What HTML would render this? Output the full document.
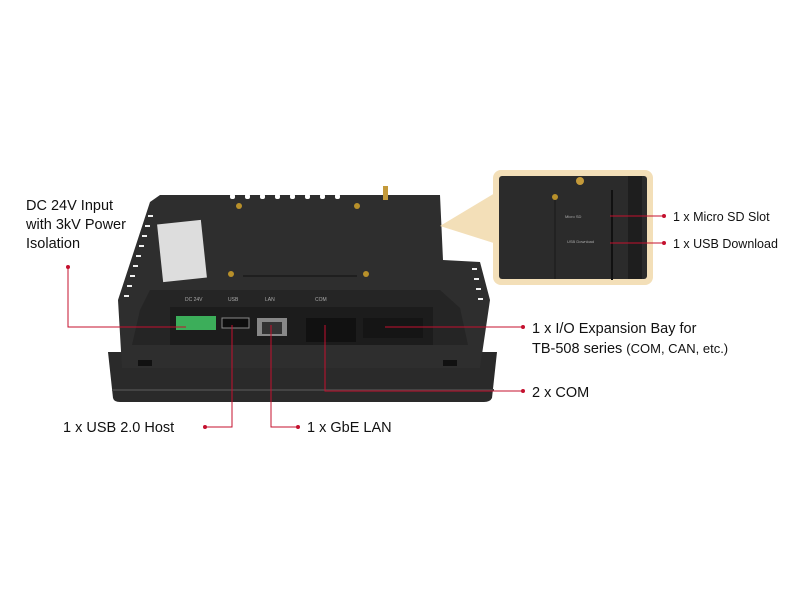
<!DOCTYPE html>
<html><head><style>
body{margin:0;background:#fff;}
svg text{font-family:"Liberation Sans",sans-serif;fill:#111;}
</style></head><body>
<svg width="800" height="600" viewBox="0 0 800 600" xmlns="http://www.w3.org/2000/svg">
<!-- bezel bottom -->
<path d="M108 352 L497 352 L492 398 Q490 402 484 402 L120 402 Q114 402 113 398 Z" fill="#2a2a2a"/>
<path d="M112 390 L494 390" stroke="#444" stroke-width="2"/>
<!-- body -->
<path d="M160 195 L440 195 L443 260 L480 262 L490 300 L480 368 L122 368 L118 300 L150 202 Z" fill="#2e2e2e"/>
<!-- vents -->
<g fill="#f0f0f0">
<rect x="148" y="215" width="5" height="2"/><rect x="145" y="225" width="5" height="2"/><rect x="142" y="235" width="5" height="2"/><rect x="139" y="245" width="5" height="2"/><rect x="136" y="255" width="5" height="2"/><rect x="133" y="265" width="5" height="2"/><rect x="130" y="275" width="5" height="2"/><rect x="127" y="285" width="5" height="2"/><rect x="124" y="295" width="5" height="2"/>
<rect x="472" y="268" width="5" height="2"/><rect x="474" y="278" width="5" height="2"/><rect x="476" y="288" width="5" height="2"/><rect x="478" y="298" width="5" height="2"/>
</g>
<g fill="#fff"><rect x="230" y="194" width="5" height="5" rx="2"/><rect x="245" y="194" width="5" height="5" rx="2"/><rect x="260" y="194" width="5" height="5" rx="2"/><rect x="275" y="194" width="5" height="5" rx="2"/><rect x="290" y="194" width="5" height="5" rx="2"/><rect x="305" y="194" width="5" height="5" rx="2"/><rect x="320" y="194" width="5" height="5" rx="2"/><rect x="335" y="194" width="5" height="5" rx="2"/></g>
<!-- label -->
<rect x="160" y="222" width="44" height="58" fill="#ddd" transform="rotate(-6 182 251)"/>
<!-- screws -->
<circle cx="239" cy="206" r="3" fill="#b8902a"/><circle cx="357" cy="206" r="3" fill="#b8902a"/>
<circle cx="231" cy="274" r="3" fill="#b8902a"/><circle cx="366" cy="274" r="3" fill="#b8902a"/>
<path d="M243 276 L357 276" stroke="#1a1a1a" stroke-width="1.5"/>
<rect x="383" y="186" width="5" height="14" fill="#c49a3a"/>
<!-- connector panel -->
<path d="M150 290 L440 290 L460 308 L468 345 L132 345 L140 310 Z" fill="#252525"/>
<rect x="170" y="307" width="263" height="38" fill="#1c1c1c"/>
<rect x="176" y="316" width="40" height="14" fill="#3cae5a"/>
<rect x="222" y="318" width="27" height="10" fill="#0e0e0e" stroke="#888"/>
<rect x="257" y="318" width="30" height="18" fill="#888"/><rect x="262" y="322" width="20" height="12" fill="#333"/>
<rect x="306" y="318" width="50" height="24" fill="#111"/>
<rect x="363" y="318" width="60" height="20" fill="#151515"/>
<g font-size="5"><text x="185" y="301" style="fill:#aaa">DC 24V</text><text x="228" y="301" style="fill:#aaa">USB</text><text x="265" y="301" style="fill:#aaa">LAN</text><text x="315" y="301" style="fill:#aaa">COM</text></g>
<rect x="138" y="360" width="14" height="6" fill="#111"/><rect x="443" y="360" width="14" height="6" fill="#111"/>
<!-- callout wedge -->
<path d="M440 226 L500 190 L500 245 Z" fill="#f3dfb8"/>
<!-- inset -->
<rect x="493" y="170" width="160" height="115" rx="8" fill="#f3dfb8"/>
<rect x="499" y="176" width="148" height="103" rx="3" fill="#2b2b2b"/>
<rect x="628" y="176" width="14" height="103" fill="#1e1e1e"/>
<path d="M612 190 L612 280" stroke="#111" stroke-width="2"/>
<path d="M555 200 L555 279" stroke="#1a1a1a"/>
<circle cx="555" cy="197" r="3" fill="#b8902a"/><circle cx="580" cy="181" r="4" fill="#c49a3a"/>
<text x="565" y="218" font-size="4" style="fill:#aaa">Micro SD</text>
<text x="567" y="243" font-size="4" style="fill:#aaa">USB Download</text>
<!-- callout lines -->
<g stroke="#c4102e" stroke-width="1" fill="none">
<path d="M68 267 L68 327 L186 327"/>
<path d="M205 427 L232 427 L232 325"/>
<path d="M298 427 L271 427 L271 325"/>
<path d="M523 327 L385 327"/>
<path d="M523 391 L325 391 L325 325"/>
<path d="M664 216 L610 216"/>
<path d="M664 243 L610 243"/>
</g>
<g fill="#c4102e">
<circle cx="68" cy="267" r="2"/><circle cx="205" cy="427" r="2"/><circle cx="298" cy="427" r="2"/>
<circle cx="523" cy="327" r="2"/><circle cx="523" cy="391" r="2"/><circle cx="664" cy="216" r="2"/><circle cx="664" cy="243" r="2"/>
</g>
<g font-size="14.5">
<text x="26" y="210">DC 24V Input</text>
<text x="26" y="229">with 3kV Power</text>
<text x="26" y="248">Isolation</text>
<text x="63" y="432">1 x USB 2.0 Host</text>
<text x="307" y="432">1 x GbE LAN</text>
<text x="532" y="333">1 x I/O Expansion Bay for</text>
<text x="532" y="353">TB-508 series <tspan font-size="13">(COM, CAN, etc.)</tspan></text>
<text x="532" y="397">2 x COM</text>
</g>
<g font-size="12.5">
<text x="673" y="221">1 x Micro SD Slot</text>
<text x="673" y="248">1 x USB Download</text>
</g>
</svg>
</body></html>
